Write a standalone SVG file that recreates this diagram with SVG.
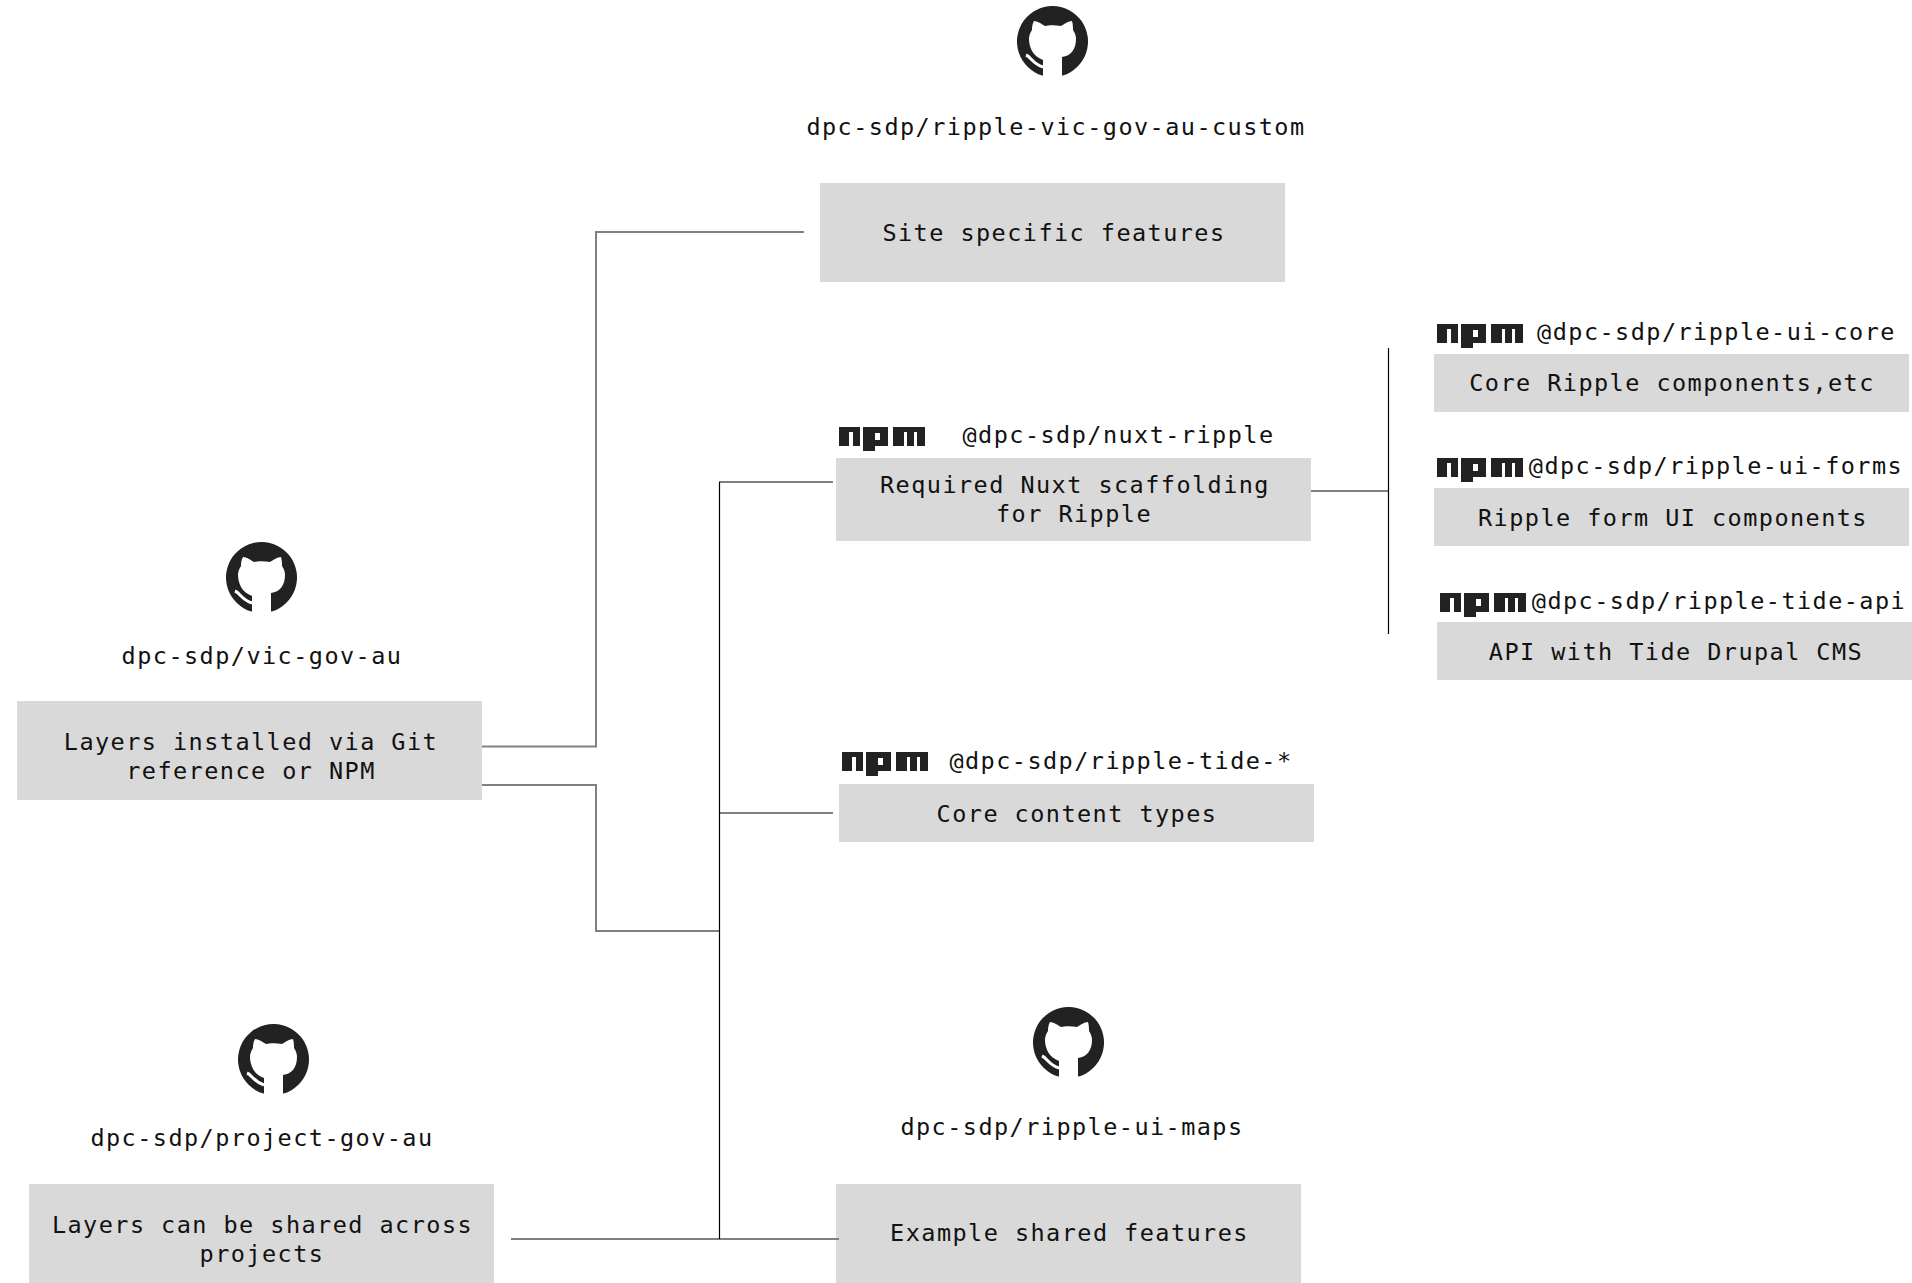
<svg xmlns="http://www.w3.org/2000/svg" xmlns:xlink="http://www.w3.org/1999/xlink" width="1912" height="1283" viewBox="0 0 1912 1283">
<style>
text{font-family:"DejaVu Sans Mono","Liberation Mono",monospace;font-size:23.5px;letter-spacing:1.45px;fill:#111;text-anchor:middle}
.b{fill:#d9d9d9}
.c{fill:none;stroke:#808080;stroke-width:2}
.k{fill:none;stroke:#000;stroke-width:1.2}
</style>
<defs>
<symbol id="gh" viewBox="0 0 72 72"><path fill="#222" d="M25.300 69.500A35.500 35.500 0 1 1 45.700 69.500Z"/><path fill="#fff" d="M17 15C20 15 25 18 28 20C32 19 39 19 44 20C47 18 52 15 55 15C56 18 56 22 56 24C58 27 59 30 59 33C59 43 54 50 45 51V70H26V54C21 52 17 49 15 45C13 41 12 37 12 33C12 30 13 27 15 24C15 22 15 18 17 15Z"/><path fill="none" stroke="#fff" stroke-width="3" d="M9 49C14 51 16 58 26 61"/></symbol>
<symbol id="npm" viewBox="0 0 86 24"><path fill="#222" fill-rule="evenodd" d="M0 0H21V19H14V5H10V19H0ZM24 0H49V19H36V24H24ZM36 6V13H41V6ZM54 0H86V19H78V5H75V19H68V5H65V19H54Z"/></symbol>
</defs>
<g id="n-custom"><use xlink:href="#gh" x="1017" y="6" width="72" height="72"/><text x="1056" y="135">dpc-sdp/ripple-vic-gov-au-custom</text><rect class="b" x="820" y="183" width="465" height="99"/><text x="1054" y="241">Site specific features</text></g>
<g id="n-vic"><use xlink:href="#gh" x="226" y="542" width="72" height="72"/><text x="262" y="664">dpc-sdp/vic-gov-au</text><rect class="b" x="17" y="701" width="465" height="99"/><text x="251" y="750">Layers installed via Git</text><text x="251" y="779">reference or NPM</text></g>
<g id="n-project"><use xlink:href="#gh" x="238" y="1024" width="72" height="72"/><text x="262" y="1146">dpc-sdp/project-gov-au</text><rect class="b" x="29" y="1184" width="465" height="99"/><text x="262.500" y="1233">Layers can be shared across</text><text x="262" y="1262">projects</text></g>
<g id="n-maps"><use xlink:href="#gh" x="1033" y="1007" width="72" height="72"/><text x="1072" y="1135">dpc-sdp/ripple-ui-maps</text><rect class="b" x="836" y="1184" width="465" height="99"/><text x="1069.500" y="1241">Example shared features</text></g>
<g id="n-nuxt"><use xlink:href="#npm" x="839" y="427" width="86" height="24"/><text x="1118.500" y="443">@dpc-sdp/nuxt-ripple</text><rect class="b" x="836" y="458" width="475" height="83"/><text x="1075" y="493">Required Nuxt scaffolding</text><text x="1074" y="522">for Ripple</text></g>
<g id="n-tide"><use xlink:href="#npm" x="842" y="752" width="86" height="24"/><text x="1121" y="769">@dpc-sdp/ripple-tide-*</text><rect class="b" x="839" y="784" width="475" height="58"/><text x="1077" y="822">Core content types</text></g>
<g id="n-core"><use xlink:href="#npm" x="1437" y="324" width="86" height="24"/><text x="1716.500" y="340">@dpc-sdp/ripple-ui-core</text><rect class="b" x="1434" y="354" width="475" height="58"/><text x="1672" y="391">Core Ripple components,etc</text></g>
<g id="n-forms"><use xlink:href="#npm" x="1437" y="458" width="86" height="24"/><text x="1716" y="474">@dpc-sdp/ripple-ui-forms</text><rect class="b" x="1434" y="488" width="475" height="58"/><text x="1673" y="526">Ripple form UI components</text></g>
<g id="n-api"><use xlink:href="#npm" x="1440" y="593" width="86" height="24"/><text x="1719" y="609">@dpc-sdp/ripple-tide-api</text><rect class="b" x="1437" y="622" width="475" height="58"/><text x="1676" y="660">API with Tide Drupal CMS</text></g>
<g id="connectors">
<path class="c" d="M804 232H596V746.500H482"/>
<path class="c" d="M482 785H596V931H719"/>
<path class="c" d="M833 482H719"/>
<path class="c" d="M833 813H719"/>
<path class="c" d="M511 1239H839"/>
<path class="c" d="M1311 491H1388"/>
<path class="k" d="M719.500 482V1239"/>
<path class="k" d="M1388.500 348V634"/>
</g>
</svg>
